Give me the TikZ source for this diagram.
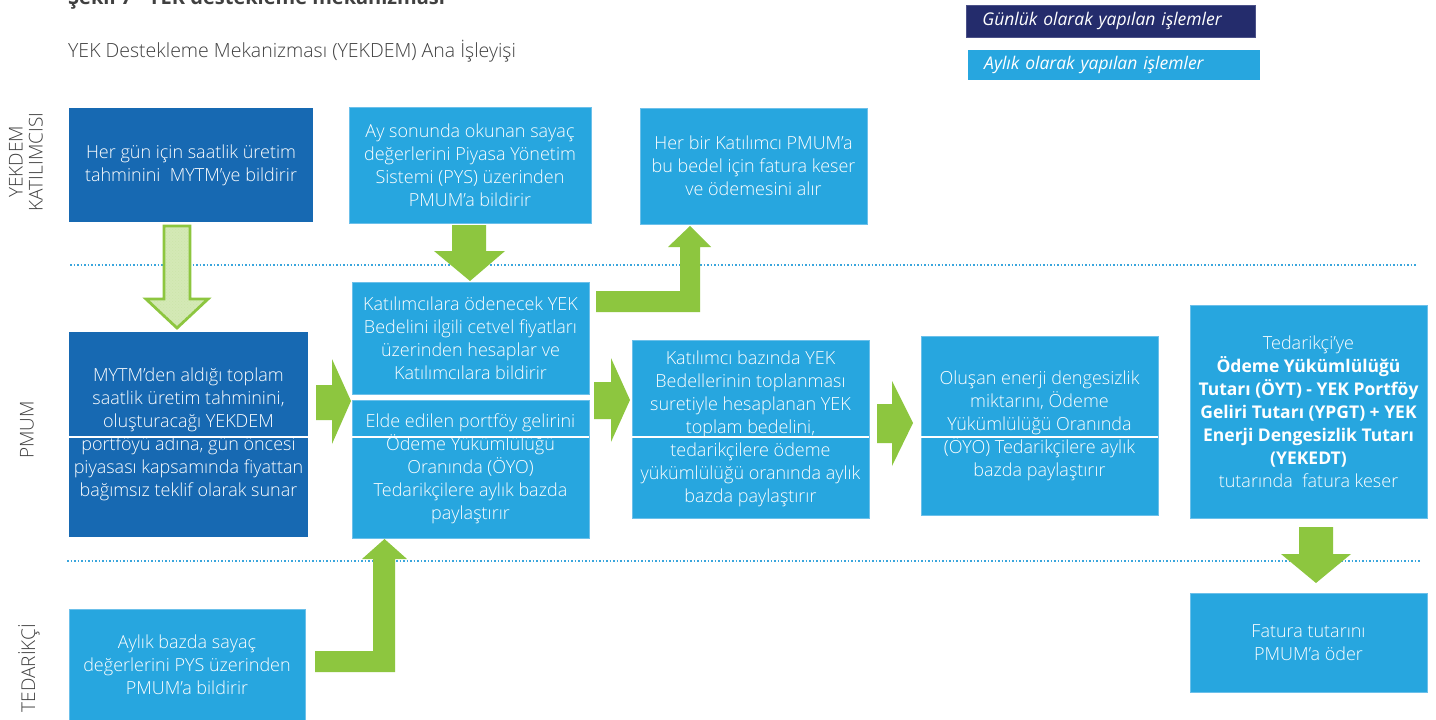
\documentclass[tikz,border=0pt]{standalone}
\usepackage{fontspec}
\IfFontExistsTF{Open Sans Light}
  {\setmainfont{Open Sans Light}}
  {\setmainfont{Open Sans}}
\newfontfamily\regfont{Open Sans}
\usetikzlibrary{patterns}
\definecolor{darkblue}{HTML}{1769B2}
\definecolor{lightblue}{HTML}{27A6DF}
\definecolor{lightedge}{HTML}{6CC0EA}
\definecolor{arrowgreen}{HTML}{8DC63F}
\definecolor{palegreen}{HTML}{D4E9B6}
\definecolor{navy}{HTML}{242C6C}
\definecolor{navyedge}{HTML}{4B5188}
\definecolor{labelgray}{HTML}{404040}
\definecolor{dotblue}{HTML}{3AA6DD}
\newcommand\hb[1]{{\regfont\bfseries\fontsize{17.5}{23}\selectfont #1}}
\tikzset{
  basebox/.style={inner sep=0pt, outer sep=0pt, align=center, text=white,
    font=\fontsize{18}{23}\selectfont},
  darkbox/.style={basebox, fill=darkblue},
  lightbox/.style={basebox, fill=lightblue, draw=lightedge, line width=0.8pt},
  blockarrow/.style={fill=arrowgreen},
  lanelabel/.style={rotate=90, align=center, text=labelgray, font=\fontsize{19}{20}\selectfont},
  dotline/.style={dotblue, dotted, line width=1.5pt},
  seam/.style={white, line width=1.2pt},
  legend/.style={anchor=north west, inner xsep=16pt, inner ysep=0pt, text width=257pt,
    align=left, text=white, font=\regfont\itshape\fontsize{17.5}{20}\selectfont},
}
\begin{document}
\begin{tikzpicture}[x=1pt,y=-1pt]
\useasboundingbox (0,0) rectangle (1436,720);
\fill[white] (0,0) rectangle (1436,720);

% title (cut at top in the reference) and subtitle
\node[anchor=base west, inner sep=0pt, text=labelgray, font=\regfont\bfseries\fontsize{20}{24}\selectfont] (title) at (68,5) {Şekil 7\hspace{16pt}YEK destekleme mekanizması};
\node[anchor=base west, inner sep=0pt, text=labelgray, font=\fontsize{19.5}{20}\selectfont] (subtitle) at (68,57) {YEK Destekleme Mekanizması (YEKDEM) Ana İşleyişi};

% legend
\node[legend, fill=navy, draw=navyedge, line width=0.8pt, minimum height=32pt] (legday) at (966,5) {Günlük olarak yapılan işlemler};
\node[legend, fill=lightblue, minimum height=30pt, text width=260pt] (legmonth) at (968,50) {Aylık olarak yapılan işlemler};

% lane labels
\node[lanelabel] (laneA) at (26,162) {YEKDEM\\KATILIMCISI};
\node[lanelabel] (laneB) at (27,430) {PMUM};
\node[lanelabel] (laneC) at (29,668) {TEDARİKÇİ};

% lane separators
\draw[dotline] (70,265) -- (1416,265);
\draw[dotline] (67,561) -- (1420,561);

% boxes
\node[darkbox, minimum width=244pt, minimum height=114pt] (A) at (191,165)
  {Her gün için saatlik üretim\\tahminini~ MYTM’ye bildirir};
\node[lightbox, minimum width=242pt, minimum height=116pt] (B) at (470,165)
  {Ay sonunda okunan sayaç\\değerlerini Piyasa Yönetim\\Sistemi (PYS) üzerinden\\PMUM’a bildirir};
\node[lightbox, minimum width=227pt, minimum height=116pt] (C) at (753.5,166)
  {Her bir Katılımcı PMUM’a\\bu bedel için fatura keser\\ve ödemesini alır};
\node[darkbox, minimum width=239pt, minimum height=205pt] (D) at (188.5,434.5)
  {MYTM’den aldığı toplam\\saatlik üretim tahminini,\\oluşturacağı YEKDEM\\portföyü adına, gün öncesi\\piyasası kapsamında fiyattan\\bağımsız teklif olarak sunar};
\node[lightbox, minimum width=237pt, minimum height=112pt] (E1) at (470.5,338)
  {Katılımcılara ödenecek YEK\\Bedelini ilgili cetvel fiyatları\\üzerinden hesaplar ve\\Katılımcılara bildirir};
\node[lightbox, minimum width=237pt, minimum height=138pt] (E2) at (470.5,469)
  {Elde edilen portföy gelirini\\Ödeme Yükümlülüğü\\Oranında (ÖYO)\\Tedarikçilere aylık bazda\\paylaştırır};
\node[lightbox, minimum width=237pt, minimum height=178pt] (F) at (750.5,429)
  {Katılımcı bazında YEK\\Bedellerinin toplanması\\suretiyle hesaplanan YEK\\toplam bedelini,\\tedarikçilere ödeme\\yükümlülüğü oranında aylık\\bazda paylaştırır};
\node[lightbox, minimum width=237pt, minimum height=179pt] (G) at (1039.5,425.5)
  {Oluşan enerji dengesizlik\\miktarını, Ödeme\\Yükümlülüğü Oranında\\(ÖYO) Tedarikçilere aylık\\bazda paylaştırır};
\node[lightbox, minimum width=237pt, minimum height=213pt] (H) at (1308.5,411.5)
  {Tedarikçi’ye\\\hb{Ödeme Yükümlülüğü}\\\hb{Tutarı (ÖYT) - YEK Portföy}\\\hb{Geliri Tutarı (YPGT) + YEK}\\\hb{Enerji Dengesizlik Tutarı}\\\hb{(YEKEDT)}\\tutarında~ fatura keser};
\node[lightbox, minimum width=237pt, minimum height=99pt] (I) at (1308.5,642.5)
  {Fatura tutarını\\PMUM’a öder};
\node[lightbox, minimum width=236pt, minimum height=112pt] (J) at (187,665)
  {Aylık bazda sayaç\\değerlerini PYS üzerinden\\PMUM’a bildirir};

% white seams across the PMUM boxes
\draw[seam] (D.west |- 0,437) -- (D.east |- 0,437);
\draw[seam] (E2.west |- 0,437) -- (E2.east |- 0,437);
\draw[seam] (F.west |- 0,437) -- (F.east |- 0,437);
\draw[seam] (G.west |- 0,437) -- (G.east |- 0,437);

% block arrows
% A -> D (hatched daily arrow)
\draw[draw=arrowgreen, line width=2.8pt, line join=miter, fill=palegreen]
  (164,226) -- (190,226) -- (190,299) -- (208,299) -- (177,328) -- (146,299) -- (164,299) -- cycle;
\fill[pattern=crosshatch dots, pattern color=arrowgreen!45]
  (166,228) -- (188,228) -- (188,301) -- (204,301) -- (177,326) -- (150,301) -- (166,301) -- cycle;
% B -> E1
\fill[blockarrow] (452,225) -- (486,225) -- (486,251) -- (505,251) -- (470,281) -- (434,251) -- (452,251) -- cycle;
% E1 -> C (elbow)
\fill[blockarrow] (596,291) -- (680,291) -- (680,247) -- (668,247) -- (690,226) -- (711,247) -- (700,247) -- (700,312) -- (596,312) -- cycle;
% D -> E
\fill[blockarrow] (316,385) -- (332,385) -- (332,359) -- (351,401) -- (332,444) -- (332,420) -- (316,420) -- cycle;
% E -> F
\fill[blockarrow] (594,382) -- (611,382) -- (611,358) -- (630,400) -- (611,442) -- (611,419) -- (594,419) -- cycle;
% F -> G
\fill[blockarrow] (877,404) -- (892,404) -- (892,381) -- (913,423) -- (892,466) -- (892,443) -- (877,443) -- cycle;
% H -> I
\fill[blockarrow] (1299,527) -- (1333,527) -- (1333,554) -- (1351,554) -- (1316,583) -- (1281,554) -- (1299,554) -- cycle;
% J -> E2 (elbow)
\fill[blockarrow] (315,651) -- (373,651) -- (373,559) -- (362,559) -- (384.5,539) -- (407,559) -- (395,559) -- (395,672) -- (315,672) -- cycle;
\end{tikzpicture}
\end{document}
